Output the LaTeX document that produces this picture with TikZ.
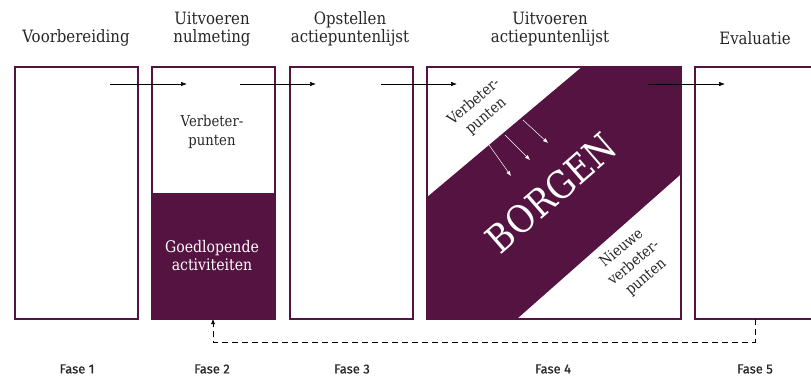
\documentclass[tikz,border=0pt]{standalone}
\usepackage{fontspec}
\setmainfont{DejaVu Serif}[FakeStretch=0.88]
\newfontfamily\fasefont{Fira Sans}[FakeBold=0.6]
\usetikzlibrary{arrows.meta}
\definecolor{borgen}{RGB}{84,19,64}
\tikzset{
    fase/.style={draw=borgen,line width=1.8pt,minimum width=123pt,minimum height=252pt,anchor=north west,inner sep=0pt},
    kop/.style={align=center,text=black!85,font=\fontsize{17}{18}\selectfont},
    tekst/.style={align=center,text=black!85,font=\fontsize{15}{19}\selectfont},
    faselabel/.style={text=black!85,font=\fasefont\fontsize{13}{15}\selectfont},
    pijl/.style={semithick,-{Latex[length=6pt,width=4.5pt]}},
    witpijl/.style={white,semithin,-{Latex[length=5pt,width=4pt]}},
    semithin/.style={line width=0.5pt},
    terug/.style={semithick,dash pattern=on 6pt off 4pt,-{Latex[length=5pt,width=4pt]}}
}
\begin{document}
\begin{tikzpicture}[x=1pt,y=-1pt]
    \useasboundingbox (0,0) rectangle (811,376);
    \clip (0,0) rectangle (811,376);
    %koppen
    \node[kop] (t1) at (76,38) {Voorbereiding};
    \node[kop] (t2) at (212,29) {Uitvoeren\\nulmeting};
    \node[kop] (t3) at (350,29) {Opstellen\\actiepuntenlijst};
    \node[kop] (t4) at (550,29) {Uitvoeren\\actiepuntenlijst};
    \node[kop] (t5) at (755,38) {Evaluatie};
    %fase 1
    \node[fase] (f1) at (14,66) {};
    %fase 2
    \fill[borgen] (151,193) rectangle (274,318);
    \node[fase] (f2) at (151,66) {};
    \node[tekst] (v2) at (212,132) {Verbeter-\\punten};
    \node[tekst,text=white,font=\fontsize{16}{18}\selectfont] (g2) at (212,256) {Goedlopende\\activiteiten};
    %fase 3
    \node[fase] (f3) at (289,66) {};
    %fase 4
    \fill[borgen] (583,66) -- (680,66) -- (680,175) -- (518,318) -- (426,318) -- (426,198) -- cycle;
    \node[fase,minimum width=254pt] (f4) at (426,66) {};
    \node[tekst,rotate=40] (v4) at (480,109) {Verbeter-\\punten};
    \node[tekst,rotate=40] (n4) at (634,263) {Nieuwe\\verbeter-\\punten};
    \node[rotate=41,text=white,font=\fontsize{38}{40}\selectfont] (b4) at (551,193) {BORGEN};
    \coordinate (w1s) at (487,142); \coordinate (w1e) at (511,176);
    \coordinate (w2s) at (505,135); \coordinate (w2e) at (530,160);
    \coordinate (w3s) at (523,120); \coordinate (w3e) at (548,143);
    \draw[witpijl] (w1s) -- (w1e);
    \draw[witpijl] (w2s) -- (w2e);
    \draw[witpijl] (w3s) -- (w3e);
    %fase 5
    \node[fase] (f5) at (694,66) {};
    %pijlen
    \coordinate (p1s) at (110,84); \coordinate (p1e) at (187,84);
    \coordinate (p2s) at (240,84); \coordinate (p2e) at (316,84);
    \coordinate (p3s) at (381,84); \coordinate (p3e) at (457,84);
    \coordinate (p4s) at (648,84); \coordinate (p4e) at (725,84);
    \draw[pijl] (p1s) -- (p1e);
    \draw[pijl] (p2s) -- (p2e);
    \draw[pijl] (p3s) -- (p3e);
    \draw[pijl] (p4s) -- (p4e);
    %terugkoppeling
    \coordinate (d5) at (755,319);
    \coordinate (d2) at (213,319);
    \draw[terug] (d5) -- ++(0,23) -| (d2);
    %fasen
    \node[faselabel] (l1) at (77,369) {Fase 1};
    \node[faselabel] (l2) at (212,369) {Fase 2};
    \node[faselabel] (l3) at (352,369) {Fase 3};
    \node[faselabel] (l4) at (553,369) {Fase 4};
    \node[faselabel] (l5) at (755,369) {Fase 5};
\end{tikzpicture}
\end{document}
